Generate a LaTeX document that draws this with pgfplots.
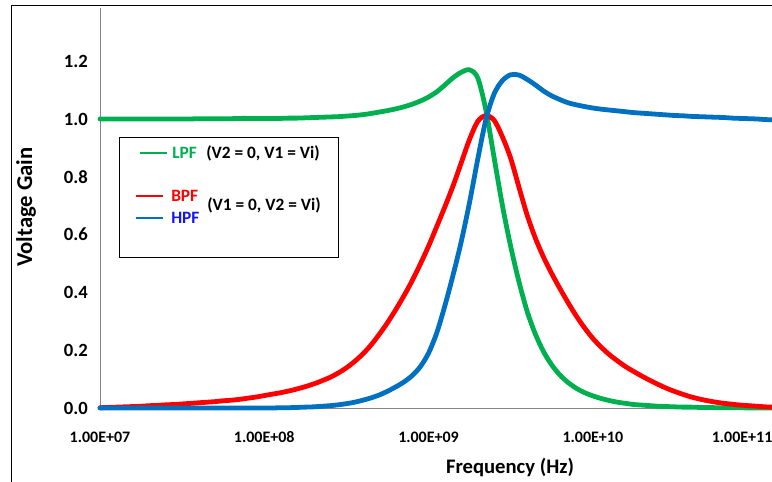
\documentclass[border=0pt]{standalone}
\usepackage{pgfplots}
\usepackage{pgfplotstable}
\pgfplotsset{compat=1.18}
\usepackage{fontspec}
\setmainfont{Carlito}

\definecolor{lpfgreen}{RGB}{0,176,80}
\definecolor{bpfred}{RGB}{255,0,0}
\definecolor{hpfblue}{RGB}{0,112,192}
\definecolor{hpftext}{RGB}{20,20,240}
\definecolor{axgray}{RGB}{134,134,134}

% frequency (Hz), gain of LPF, BPF and HPF outputs
\pgfplotstableread{
f         lpf    bpf    hpf
1.000e7   1.000  0.001  0.000
1.122e7   1.000  0.002  0.000
1.259e7   1.000  0.003  0.000
1.413e7   1.000  0.004  0.000
1.585e7   1.000  0.005  0.000
1.778e7   1.000  0.006  0.000
1.995e7   1.000  0.008  0.000
2.239e7   1.000  0.009  0.000
2.512e7   1.000  0.011  0.000
2.818e7   1.000  0.012  0.000
3.162e7   1.000  0.014  0.000
3.548e7   1.000  0.016  0.000
3.981e7   1.001  0.018  0.000
4.467e7   1.001  0.020  0.000
5.012e7   1.001  0.022  0.000
5.623e7   1.001  0.025  0.000
6.310e7   1.001  0.027  0.000
7.079e7   1.002  0.030  0.000
7.943e7   1.002  0.034  0.000
8.913e7   1.002  0.038  0.000
1.000e8   1.002  0.043  0.000
1.122e8   1.002  0.048  0.000
1.259e8   1.002  0.053  0.001
1.413e8   1.003  0.059  0.001
1.585e8   1.003  0.066  0.002
1.778e8   1.004  0.074  0.003
1.995e8   1.005  0.083  0.004
2.239e8   1.006  0.094  0.006
2.512e8   1.007  0.106  0.008
2.818e8   1.008  0.121  0.011
3.162e8   1.010  0.139  0.015
3.548e8   1.012  0.161  0.020
3.981e8   1.015  0.187  0.027
4.467e8   1.019  0.218  0.035
5.012e8   1.024  0.255  0.045
5.623e8   1.029  0.295  0.058
6.310e8   1.035  0.340  0.073
7.079e8   1.042  0.388  0.090
7.943e8   1.051  0.440  0.112
8.913e8   1.062  0.498  0.143
1.000e9   1.076  0.560  0.190
1.122e9   1.094  0.628  0.260
1.259e9   1.118  0.697  0.355
1.413e9   1.143  0.770  0.462
1.585e9   1.162  0.850  0.578
1.778e9   1.170  0.930  0.712
1.995e9   1.142  0.992  0.862
2.239e9   1.028  1.012  1.000
2.512e9   0.863  0.995  1.088
2.818e9   0.700  0.938  1.133
3.162e9   0.559  0.864  1.153
3.548e9   0.438  0.765  1.152
3.981e9   0.335  0.668  1.137
4.467e9   0.256  0.588  1.118
5.012e9   0.195  0.522  1.097
5.623e9   0.149  0.465  1.080
6.310e9   0.114  0.413  1.067
7.079e9   0.088  0.364  1.056
7.943e9   0.068  0.318  1.049
8.913e9   0.053  0.277  1.043
1.000e10  0.042  0.241  1.038
1.122e10  0.033  0.211  1.034
1.259e10  0.026  0.185  1.031
1.413e10  0.020  0.163  1.028
1.585e10  0.016  0.143  1.025
1.778e10  0.012  0.126  1.022
1.995e10  0.010  0.110  1.020
2.239e10  0.008  0.095  1.018
2.512e10  0.006  0.081  1.016
2.818e10  0.005  0.068  1.014
3.162e10  0.004  0.057  1.012
3.548e10  0.003  0.047  1.011
3.981e10  0.003  0.038  1.009
4.467e10  0.002  0.031  1.008
5.012e10  0.002  0.025  1.007
5.623e10  0.001  0.020  1.006
6.310e10  0.001  0.016  1.005
7.079e10  0.001  0.013  1.003
7.943e10  0.001  0.010  1.002
8.913e10  0.000  0.008  1.001
1.000e11  0.000  0.006  1.000
1.122e11  0.000  0.004  0.998
1.230e11  0.000  0.003  0.997
}\gaindata

\begin{document}
\begin{tikzpicture}
% page frame (1px = 0.75pt, origin at the top-left corner)
\path[use as bounding box] (0,0) rectangle (579pt,-361.5pt);
\draw[line width=0.8pt] (8.4pt,-361.5pt) -- (8.4pt,-3.9pt) -- (579pt,-3.9pt);

\begin{axis}[
  at={(75pt,-306pt)}, anchor=south west,
  scale only axis, width=504pt, height=300pt,
  xmode=log, xmin=1e7, xmax=1.233e11,
  ymin=0, ymax=1.384,
  clip=false,
  axis x line*=bottom, axis y line*=left,
  axis line style={draw=axgray, line width=0.75pt, -},
  major tick length=0pt, xminorticks=false,
  xtick={1e7,1e8,1e9,1e10,1e11},
  xticklabels={1.00E+07,1.00E+08,1.00E+09,1.00E+10,\makebox[23pt][r]{1.00E+11}},
  ytick={0,0.2,0.4,0.6,0.8,1.0,1.2},
  yticklabels={0.0,0.2,0.4,0.6,0.8,1.0,1.2},
  xticklabel style={font=\fontsize{12}{14}\selectfont\bfseries, anchor=center, inner sep=0pt, yshift=-21.75pt},
  yticklabel style={font=\fontsize{14}{16}\selectfont\bfseries, anchor=east, inner sep=0pt, xshift=-9pt},
  every axis plot/.append style={line width=3.6pt, smooth, tension=0.5, line join=round, line cap=round},
]
\addplot[lpfgreen] table[x=f, y=lpf] {\gaindata}; % LPF (V2 = 0, V1 = Vi)
\addplot[bpfred]   table[x=f, y=bpf] {\gaindata}; % BPF (V1 = 0, V2 = Vi)
\addplot[hpfblue]  table[x=f, y=hpf] {\gaindata}; % HPF (V1 = 0, V2 = Vi)
\end{axis}

% axis titles
\node[rotate=90, font=\fontsize{17}{20}\selectfont\bfseries] at (19.5pt,-155.25pt) {Voltage Gain};
\node[font=\fontsize{15.5}{18}\selectfont\bfseries] at (382.5pt,-350.25pt) {Frequency (Hz)};

% legend
\draw[line width=0.75pt, fill=white] (89.25pt,-102.75pt) rectangle (253.5pt,-192.75pt);
\draw[lpfgreen, line width=1.8pt] (105pt,-114.75pt) -- (125.25pt,-114.75pt);
\draw[bpfred, line width=1.8pt] (102pt,-147pt) -- (122.25pt,-147pt);
\draw[hpfblue, line width=1.8pt] (102pt,-163.5pt) -- (122.25pt,-163.5pt);
\begin{scope}[every node/.style={inner sep=0pt, anchor=west, font=\fontsize{13}{15}\selectfont\bfseries}]
\node[text=lpfgreen] at (129pt,-114.75pt) {LPF};
\node at (154.5pt,-114.75pt) {(V2 = 0, V1 = Vi)};
\node[text=bpfred] at (128.25pt,-147pt) {BPF};
\node[text=hpftext] at (128.25pt,-163.5pt) {HPF};
\node at (155.25pt,-153.75pt) {(V1 = 0, V2 = Vi)};
\end{scope}
\end{tikzpicture}
\end{document}
